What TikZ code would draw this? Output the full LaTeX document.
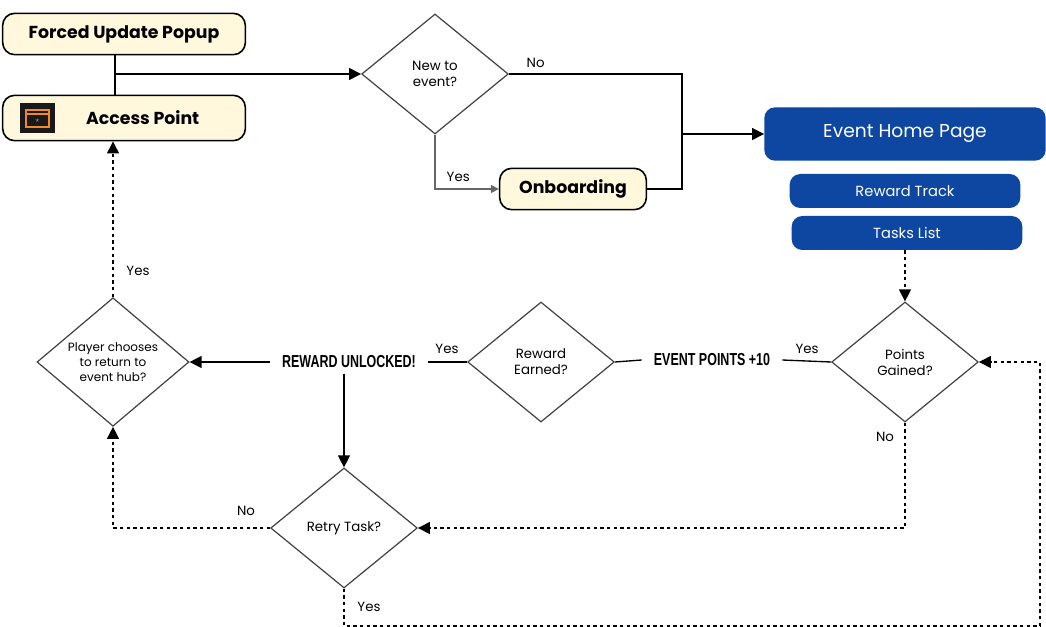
\documentclass[tikz,border=0pt]{standalone}
\usepackage{fontspec}
\setmainfont{Poppins}
\newfontfamily\badgefont[FakeStretch=0.72]{Liberation Sans}
\usetikzlibrary{arrows.meta, positioning, shapes.geometric, calc}
\definecolor{cream}{HTML}{FFF8DC}
\definecolor{eventblue}{HTML}{0D47A1}
\definecolor{iconorange}{HTML}{F08A24}

\begin{document}
\begin{tikzpicture}[x=0.75pt, y=-0.75pt,
    box/.style={draw, line width=1.2pt, rounded corners=9pt, fill=cream, font=\bfseries\fontsize{13}{15}\selectfont},
    bluebox/.style={fill=eventblue, rounded corners=8pt, text=white, font=\fontsize{11}{13}\selectfont},
    decision/.style={diamond, draw=black!75, line width=0.9pt, inner sep=0pt, minimum width=110pt, minimum height=90pt, align=center, font=\fontsize{10}{12}\selectfont},
    badge/.style={fill=white, rounded corners=2pt, inner xsep=9pt, inner ysep=4pt, font=\badgefont\bfseries\fontsize{13}{14}\selectfont},
    lbl/.style={font=\fontsize{10}{12}\selectfont},
    flow/.style={line width=1pt, -{Triangle[length=9pt, width=9pt]}},
    dflow/.style={flow, dash pattern=on 2.5pt off 2.5pt}]
    \useasboundingbox (0,0) rectangle (1046,627);

    % Start
    \node (popup) [box, minimum width=182pt, minimum height=31pt] at (124,34) {Forced Update Popup};
    \node (access) [box, minimum width=182pt, minimum height=34pt] at (124,118) {\hspace*{28pt}Access Point};
    \fill[black!90] (20,103) rectangle (55,133);
    \draw[iconorange, line width=0.8pt] (26,110) rectangle (49,127);
    \draw[iconorange, line width=0.8pt] (26,114) -- (49,114);
    \node[iconorange, font=\fontsize{6}{6}\selectfont, inner sep=0pt] at (37.5,121) {$\star$};

    % Decisions
    \node (newevent) [decision] at (435,74) {New to\\event?};
    \node (onboard) [box, minimum width=110pt, minimum height=31pt] at (573,189) {Onboarding};
    \node (home) [bluebox, minimum width=211pt, minimum height=40pt, font=\fontsize{14}{16}\selectfont] at (905,134) {Event Home Page};
    \node (track) [bluebox, minimum width=173pt, minimum height=25.5pt] at (905,191) {Reward Track};
    \node (tasks) [bluebox, minimum width=173pt, minimum height=25.5pt] at (907,233) {Tasks List};
    \node (points) [decision] at (905,362) {Points\\Gained?};
    \node (reward) [decision] at (541,362) {Reward\\Earned?};
    \node (player) [decision, minimum width=114pt, minimum height=93pt, font=\fontsize{9}{11}\selectfont] at (113,362) {Player chooses\\to return to\\event hub?};
    \node (retry) [decision] at (344,528) {Retry Task?};

    % Badges
    \node (pointsbadge) [badge] at (712,360) {EVENT POINTS +10};
    \node (unlock) [badge] at (349,362) {REWARD UNLOCKED!};

    % Corners
    \coordinate (join) at (682,134);
    \coordinate (bottomright) at (1040,626);

    % Arrows
    \draw[line width=1pt] (popup.south -| 115,0) -- (access.north -| 115,0);
    \draw[flow] (115,74) -- (newevent.west);
    \draw[line width=1pt] (newevent.east) -- (join |- newevent.east) -- (join |- onboard.east) -- (onboard.east);
    \node[lbl, anchor=south west] at (522,72) {No};
    \draw[flow] (join) -- (home.west);
    \draw[line width=1pt, -{Triangle[length=6pt, width=6pt]}, black!60] (newevent.south) -- (newevent.south |- onboard.west) -- (onboard.west);
    \node[lbl, anchor=south west] at (442,186) {Yes};
    \draw[dflow] (tasks.south -| points.north) -- (points.north);
    \draw[line width=1pt] (points.west) -- (pointsbadge.east);
    \draw[line width=1pt] (pointsbadge.west) -- (reward.east);
    \node[lbl, anchor=south] at (807,358) {Yes};
    \draw[line width=1pt] (reward.west) -- (unlock.east);
    \node[lbl, anchor=south] at (447,358) {Yes};
    \draw[flow] (unlock.west) -- (player.east);
    \draw[flow] (unlock.south -| retry.north) -- (retry.north);
    \draw[dflow] (retry.west) -- (player.south |- retry.west) -- (player.south);
    \node[lbl, anchor=south] at (246,520) {No};
    \draw[dflow] (player.north) -- (player.north |- access.south);
    \node[lbl] at (138,271) {Yes};
    \draw[dflow] (points.south) -- (points.south |- retry.east) -- (retry.east);
    \node[lbl] at (885,437) {No};
    \draw[dflow] (retry.south) -- (retry.south |- bottomright) -- (bottomright) -- (bottomright |- points.east) -- (points.east);
    \node[lbl] at (369,607) {Yes};
\end{tikzpicture}
\end{document}
